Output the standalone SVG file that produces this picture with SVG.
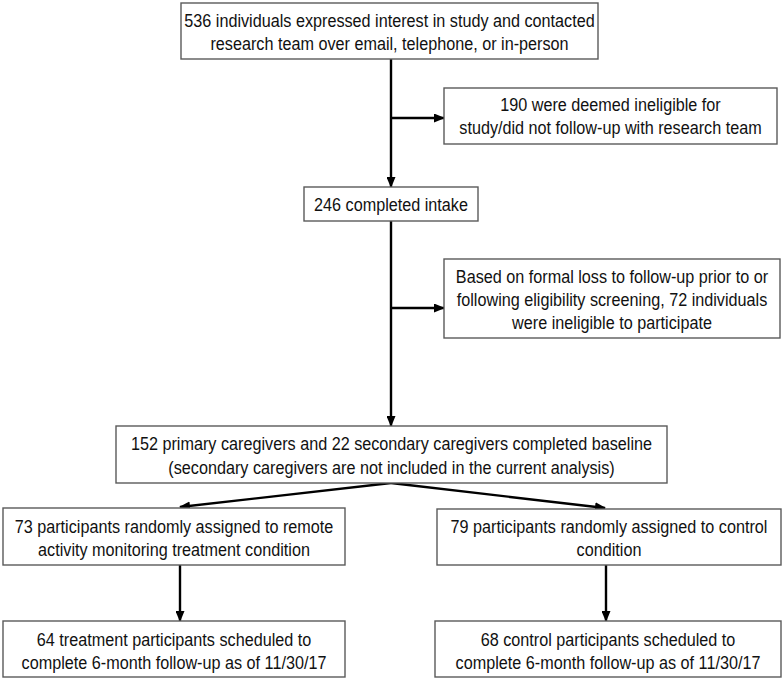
<svg xmlns="http://www.w3.org/2000/svg" width="784" height="681" viewBox="0 0 784 681">
<style>
.box{fill:#fff;stroke:#5a5a5a;stroke-width:1.4}
.t{font-family:"Liberation Sans",Arial,sans-serif;font-size:18.5px;fill:#111;text-anchor:middle}
.c{fill:none;stroke:#000;stroke-width:2.4}
</style>
<defs>
<marker id="ah" markerUnits="userSpaceOnUse" markerWidth="11" markerHeight="9" refX="10" refY="4.5" orient="auto">
<path d="M0,0 L11,4.5 L0,9 z" fill="#000"/>
</marker>
</defs>
<rect width="784" height="681" fill="#fff"/>
<g id="connectors">
<line class="c" x1="391" y1="59" x2="391" y2="187" marker-end="url(#ah)"/>
<line class="c" x1="391" y1="118" x2="444" y2="118" marker-end="url(#ah)"/>
<line class="c" x1="391" y1="221" x2="391" y2="426" marker-end="url(#ah)"/>
<line class="c" x1="391" y1="308" x2="444" y2="308" marker-end="url(#ah)"/>
<line class="c" x1="391" y1="483" x2="180" y2="507" marker-end="url(#ah)"/>
<line class="c" x1="391" y1="483" x2="605" y2="508" marker-end="url(#ah)"/>
<line class="c" x1="180" y1="565" x2="180" y2="621" marker-end="url(#ah)"/>
<line class="c" x1="606" y1="565" x2="606" y2="621" marker-end="url(#ah)"/>
</g>
<g id="n1">
<rect class="box" x="181" y="3" width="417" height="56"/>
<text class="t" transform="translate(389.5 0) scale(0.876 1)"><tspan x="0" y="27">536 individuals expressed interest in study and contacted</tspan><tspan x="0" y="50">research team over email, telephone, or in-person</tspan></text>
</g>
<g id="n2">
<rect class="box" x="444" y="88" width="333" height="56"/>
<text class="t" transform="translate(610.5 0) scale(0.876 1)"><tspan x="0" y="111">190 were deemed ineligible for</tspan><tspan x="0" y="134">study/did not follow-up with research team</tspan></text>
</g>
<g id="n3">
<rect class="box" x="304" y="187" width="174" height="34"/>
<text class="t" transform="translate(391 0) scale(0.876 1)"><tspan x="0" y="211">246 completed intake</tspan></text>
</g>
<g id="n4">
<rect class="box" x="444" y="259" width="336" height="79"/>
<text class="t" transform="translate(612 0) scale(0.876 1)"><tspan x="0" y="283">Based on formal loss to follow-up prior to or</tspan><tspan x="0" y="306">following eligibility screening, 72 individuals</tspan><tspan x="0" y="329">were ineligible to participate</tspan></text>
</g>
<g id="n5">
<rect class="box" x="116" y="426" width="551" height="57"/>
<text class="t" transform="translate(391.5 0) scale(0.876 1)"><tspan x="0" y="450">152 primary caregivers and 22 secondary caregivers completed baseline</tspan><tspan x="0" y="474">(secondary caregivers are not included in the current analysis)</tspan></text>
</g>
<g id="n6">
<rect class="box" x="3" y="508" width="342" height="57"/>
<text class="t" transform="translate(174 0) scale(0.876 1)"><tspan x="0" y="533">73 participants randomly assigned to remote</tspan><tspan x="0" y="556">activity monitoring treatment condition</tspan></text>
</g>
<g id="n7">
<rect class="box" x="437" y="509" width="344" height="56"/>
<text class="t" transform="translate(609 0) scale(0.876 1)"><tspan x="0" y="533">79 participants randomly assigned to control</tspan><tspan x="0" y="556">condition</tspan></text>
</g>
<g id="n8">
<rect class="box" x="3" y="621" width="342" height="56"/>
<text class="t" transform="translate(174 0) scale(0.876 1)"><tspan x="0" y="646">64 treatment participants scheduled to</tspan><tspan x="0" y="669">complete 6-month follow-up as of 11/30/17</tspan></text>
</g>
<g id="n9">
<rect class="box" x="435" y="621" width="346" height="56"/>
<text class="t" transform="translate(608 0) scale(0.876 1)"><tspan x="0" y="646">68 control participants scheduled to</tspan><tspan x="0" y="669">complete 6-month follow-up as of 11/30/17</tspan></text>
</g>
</svg>
